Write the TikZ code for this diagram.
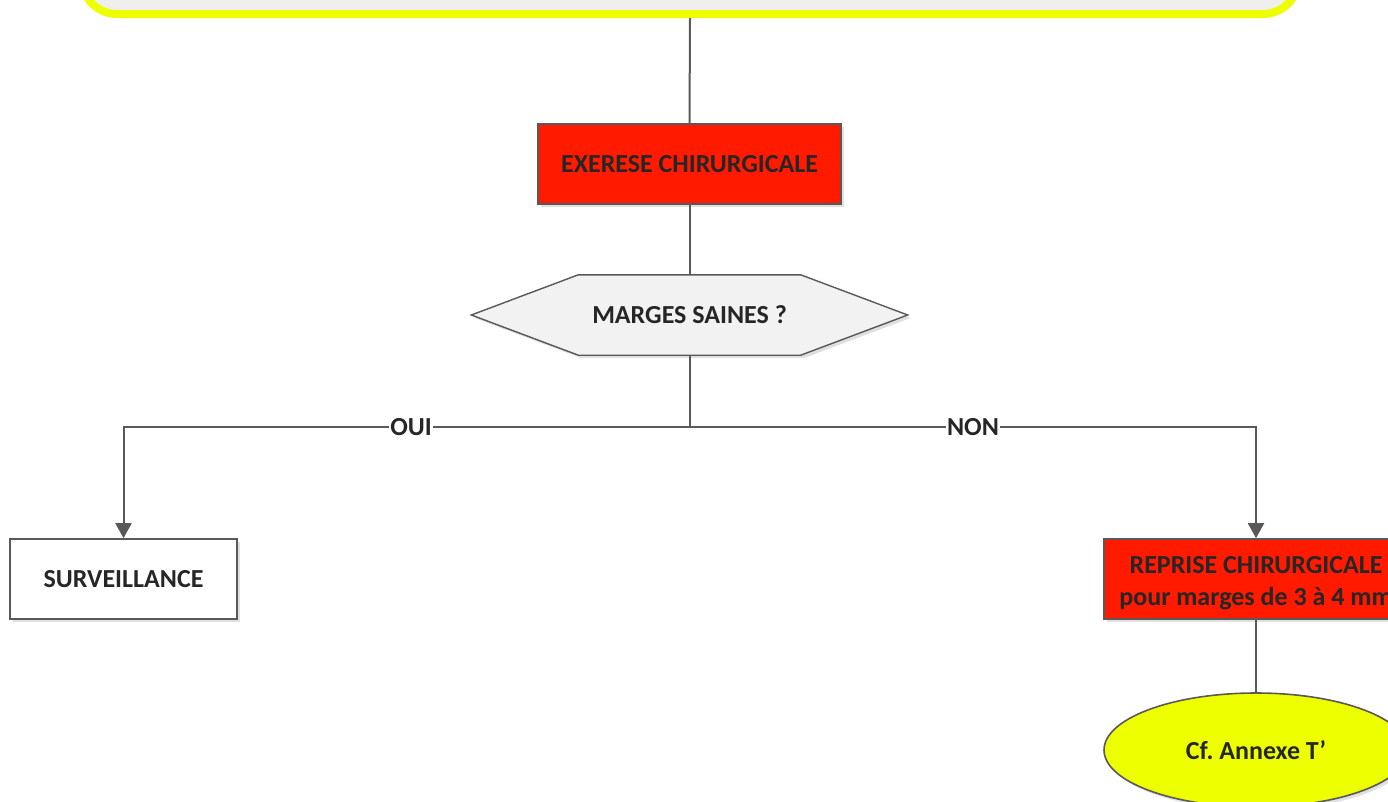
\documentclass[tikz,border=0pt]{standalone}
\usepackage{fontspec}
\setmainfont{Carlito}
\usetikzlibrary{arrows.meta,shadows,calc,shapes.geometric}
\definecolor{lc}{HTML}{595959}
\definecolor{redf}{HTML}{FF1A00}
\definecolor{yel}{HTML}{EEFF00}
\definecolor{txt}{HTML}{262626}
\definecolor{topfill}{HTML}{EFF0EE}
\definecolor{hexfill}{HTML}{F2F2F2}
\tikzset{
  fnt/.style={font=\fontsize{26}{32}\selectfont\bfseries},
  shad/.style={drop shadow={shadow xshift=3pt, shadow yshift=-3pt, fill=black!35, opacity=0.35}},
  stepbox/.style={draw=lc, line width=1.6pt, minimum height=80pt, inner sep=0pt, align=center,
    text=txt, fnt, shad},
  conn/.style={draw=lc, line width=2pt},
  arr/.style={conn, -{Triangle[length=15pt, width=16pt]}},
  lab/.style={fill=white, inner sep=1pt, text=txt, fnt},
}
\begin{document}
\begin{tikzpicture}[x=1pt,y=-1pt]
\useasboundingbox (0,0) rectangle (1388,801);
% top box (cut off)
\node[draw=yel, line width=8pt, fill=topfill, rounded corners=35pt, minimum width=1216pt,
      minimum height=200pt, shad] (top) at (690,-86) {};
\node[stepbox, fill=redf, minimum width=303pt] (ex) at (689.5,164) {EXERESE CHIRURGICALE};
\node[minimum width=436pt, minimum height=80pt, inner sep=0pt] (dec) at (689.5,315) {};
\filldraw[draw=lc, line width=1.4pt, fill=hexfill, shad]
  (dec.west) -- ($(dec.north west)+(107,0)$) -- ($(dec.north east)+(-107,0)$) -- (dec.east)
  -- ($(dec.south east)+(-107,0)$) -- ($(dec.south west)+(107,0)$) -- cycle;
\node[text=txt, fnt] at (dec.center) {MARGES SAINES ?};
\node[stepbox, fill=white, minimum width=227pt] (surv) at (123.5,579) {SURVEILLANCE};
\node[stepbox, fill=redf, minimum width=304pt] (rep) at (1256,579)
  {\raisebox{-4pt}[\height][\depth]{\begin{tabular}{@{}c@{}}REPRISE CHIRURGICALE\\pour marges de 3 à 4 mm\end{tabular}}};
\node[ellipse, draw=lc, line width=1.6pt, fill=yel, minimum width=304pt, minimum height=114pt,
      text=txt, fnt, shad] (ann) at (1256,750) {Cf.\ Annexe T’};
\coordinate (j) at (689.5,427);
\draw[conn] (top.south) -- (ex.north);
\draw[conn] (ex.south) -- (dec.north);
\draw[conn] (dec.south) -- (j);
\draw[arr] (j) -| (surv.north);
\draw[arr] (j) -| (rep.north);
\draw[conn] (rep.south) -- (ann.north);
\node[lab] (oui) at (411,427) {OUI};
\node[lab] (non) at (973,427) {NON};
\end{tikzpicture}
\end{document}
